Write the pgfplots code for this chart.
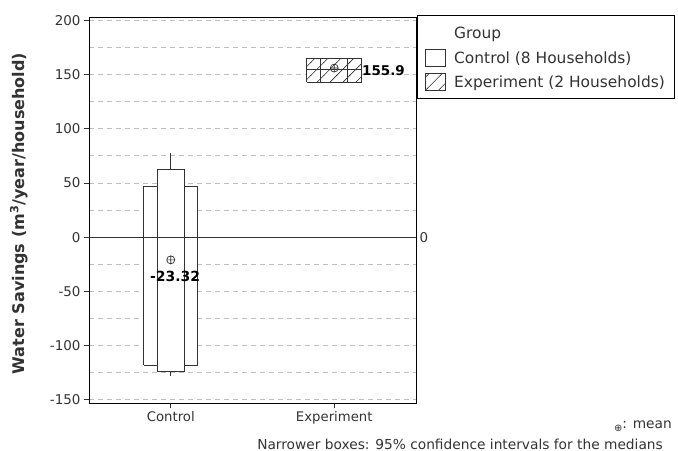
\documentclass[border=0pt]{standalone}
\usepackage{fontspec}
\setmainfont{DejaVu Sans}
\usepackage{pgfplots}
\pgfplotsset{compat=1.18}
\usetikzlibrary{patterns}
\definecolor{lc}{gray}{0.2}
\definecolor{gridc}{gray}{0.75}
\pgfdeclarepatternformonly{hatch}{\pgfqpoint{-1pt}{-1pt}}{\pgfqpoint{14pt}{14pt}}{\pgfqpoint{13pt}{13pt}}%
{\pgfsetlinewidth{0.6pt}\pgfpathmoveto{\pgfqpoint{-0.5pt}{-0.5pt}}\pgfpathlineto{\pgfqpoint{13.5pt}{13.5pt}}\pgfusepath{stroke}}
\begin{document}
\begin{tikzpicture}
\useasboundingbox (-89bp,-48bp) rectangle (589bp,403bp);
\begin{axis}[
  scale only axis, width=327bp, height=386bp,
  xmin=0.5, xmax=2.5, ymin=-153, ymax=203,
  clip=false,
  xtick={1,2}, xticklabels={Control,Experiment},
  ytick={-150,-100,...,200},
  minor ytick={-125,-75,...,175},
  ymajorgrids, yminorgrids,
  major grid style={gridc, dash pattern=on 5bp off 4bp, line width=0.6bp},
  minor grid style={gridc, dash pattern=on 5bp off 4bp, line width=0.6bp},
  tick align=outside, xtick pos=bottom, ytick pos=left,
  major tick length=5bp, minor tick length=0.1pt,
  tick style={lc, line width=0.7bp},
  axis line style={black, line width=0.8bp},
  /pgf/number format/assume math mode=true,
  yticklabel style={font=\fontsize{13.5}{15}\selectfont, text=lc},
  xticklabel style={font=\fontsize{13.3}{15}\selectfont, text=lc},
  legend style={at={(rel axis cs:1,1)}, anchor=north west, xshift=1bp, yshift=2bp,
    draw=black, line width=0.8bp, fill=white, font=\fontsize{15.5}{18}\selectfont,
    text=lc, inner xsep=8bp, inner ysep=7bp, row sep=6.5bp, column sep=6bp,
    nodes={inner sep=2bp}},
  legend cell align=left,
  legend image code/.code={\draw[#1] (0bp,-8bp) rectangle (20bp,9bp);},
]
% zero reference line
\addplot[lc, line width=0.8bp, forget plot] coordinates {(0.5,0) (2.5,0)};
% Control: whiskers
\addplot[lc, line width=0.8bp, forget plot] coordinates {(1,62.6) (1,78)};
\addplot[lc, line width=0.8bp, forget plot] coordinates {(1,-123.6) (1,-127.7)};
% Control: wide box
\addplot[draw=lc, line width=0.8bp, fill=white, forget plot]
  coordinates {(0.835,-118) (1.165,-118) (1.165,46.6) (0.835,46.6) (0.835,-118)};
% Control: narrow box
\addplot[draw=lc, line width=0.8bp, fill=white, forget plot]
  coordinates {(0.9155,-123.6) (1.0845,-123.6) (1.0845,62.6) (0.9155,62.6) (0.9155,-123.6)};
% Control: median
\addplot[lc, line width=0.8bp, forget plot] coordinates {(0.835,0) (1.165,0)};
% Experiment: wide box
\addplot[draw=lc, line width=0.8bp, fill=white, postaction={pattern=hatch, pattern color=lc}, forget plot]
  coordinates {(1.8315,143) (2.1685,143) (2.1685,165) (1.8315,165) (1.8315,143)};
% Experiment: narrow box
\addplot[draw=lc, line width=0.8bp, fill=white, postaction={pattern=hatch, pattern color=lc}, forget plot]
  coordinates {(1.9175,142.5) (2.0825,142.5) (2.0825,165) (1.9175,165) (1.9175,142.5)};
% Experiment: median
\addplot[lc, line width=0.8bp, forget plot] coordinates {(1.8315,154.5) (2.1685,154.5)};
% means
\addplot[only marks, mark=oplus, mark size=4bp, lc, mark options={line width=0.7bp, fill=white}, forget plot]
  coordinates {(1,-21) (2,155.9)};
% value labels
\node[font=\bfseries\fontsize{14}{16}\selectfont, text=black] at (axis cs:1.026,-36.5) {-23.32};
\node[font=\bfseries\fontsize{13.5}{16}\selectfont, text=black, anchor=west, inner sep=0pt] at (axis cs:2.17,154) {155.9};
\node[font=\fontsize{13.5}{15}\selectfont, text=lc, anchor=west] at (axis cs:2.5,0) {0};
% y label
\node[rotate=90, font=\bfseries\fontsize{16.1}{19}\selectfont, text=lc] at (rel axis cs:-0.214,0.491)
  {Water Savings (m\textsuperscript{3}/year/household)};
% legend
\addlegendimage{empty legend}\addlegendentry{\rule{0pt}{14.5bp}Group}
\addlegendimage{draw=lc, fill=white}\addlegendentry{Control (8 Households)}
\addlegendimage{draw=lc, pattern=hatch, pattern color=lc}\addlegendentry{Experiment (2 Households)}
\end{axis}
\node[anchor=east, font=\fontsize{13.8}{16}\selectfont, text=lc, inner sep=0pt] at (583bp,-23bp)
  {\raisebox{-3bp}{\fontsize{10}{10}\selectfont ⊕}: mean};
\node[anchor=east, font=\fontsize{13.8}{16}\selectfont, text=lc, inner sep=0pt] at (574bp,-41bp)
  {Narrower boxes: 95\% confidence intervals for the medians};
\end{tikzpicture}
\end{document}
